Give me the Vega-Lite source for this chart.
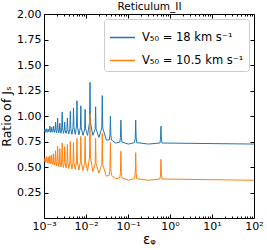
{
  "$schema": "https://vega.github.io/schema/vega-lite/v6.json",
  "width": 210,
  "height": 204,
  "autosize": {"type": "none"},
  "padding": {"left": 44, "top": 14, "right": 13, "bottom": 32},
  "config": {
    "font": "DejaVu Sans",
    "view": {"stroke": "black", "strokeWidth": 1},
    "axis": {"grid": false, "domain": false, "tickColor": "black", "labelColor": "black", "labelFontSize": 11, "titleFontSize": 12, "titleFontWeight": "normal", "titleColor": "black", "labelFont": "DejaVu Sans", "titleFont": "DejaVu Sans"}
  },
  "data": {"values": [
    {"x":0.001,"b":0.84,"o":0.55},
    {"x":0.001033,"b":0.848,"o":0.558},
    {"x":0.001059,"b":0.87,"o":0.59},
    {"x":0.001085,"b":0.848,"o":0.558},
    {"x":0.001105,"b":0.84,"o":0.545},
    {"x":0.001124,"b":0.849,"o":0.557},
    {"x":0.001153,"b":0.875,"o":0.60},
    {"x":0.001182,"b":0.849,"o":0.557},
    {"x":0.001206,"b":0.84,"o":0.54},
    {"x":0.001229,"b":0.849,"o":0.553},
    {"x":0.00126,"b":0.87,"o":0.60},
    {"x":0.001292,"b":0.849,"o":0.553},
    {"x":0.00132,"b":0.845,"o":0.535},
    {"x":0.001348,"b":0.857,"o":0.552},
    {"x":0.001383,"b":0.90,"o":0.61},
    {"x":0.001418,"b":0.857,"o":0.552},
    {"x":0.001452,"b":0.84,"o":0.53},
    {"x":0.001487,"b":0.853,"o":0.55},
    {"x":0.001525,"b":0.89,"o":0.62},
    {"x":0.001563,"b":0.853,"o":0.55},
    {"x":0.001605,"b":0.84,"o":0.525},
    {"x":0.001648,"b":0.855,"o":0.549},
    {"x":0.00169,"b":0.90,"o":0.63},
    {"x":0.001732,"b":0.855,"o":0.549},
    {"x":0.001784,"b":0.84,"o":0.52},
    {"x":0.001836,"b":0.863,"o":0.551},
    {"x":0.001883,"b":0.94,"o":0.66},
    {"x":0.00193,"b":0.863,"o":0.551},
    {"x":0.001993,"b":0.835,"o":0.51},
    {"x":0.002058,"b":0.871,"o":0.557},
    {"x":0.002111,"b":0.98,"o":0.705},
    {"x":0.002164,"b":0.871,"o":0.557},
    {"x":0.002243,"b":0.835,"o":0.505},
    {"x":0.002323,"b":0.857,"o":0.547},
    {"x":0.002383,"b":0.93,"o":0.68},
    {"x":0.002443,"b":0.857,"o":0.547},
    {"x":0.002542,"b":0.83,"o":0.50},
    {"x":0.002643,"b":0.883,"o":0.557},
    {"x":0.002711,"b":1.04,"o":0.735},
    {"x":0.002779,"b":0.883,"o":0.557},
    {"x":0.002905,"b":0.83,"o":0.495},
    {"x":0.003034,"b":0.858,"o":0.544},
    {"x":0.003112,"b":0.94,"o":0.70},
    {"x":0.00319,"b":0.858,"o":0.544},
    {"x":0.003352,"b":0.83,"o":0.49},
    {"x":0.003519,"b":0.866,"o":0.546},
    {"x":0.003609,"b":0.98,"o":0.72},
    {"x":0.003699,"b":0.866,"o":0.546},
    {"x":0.00391,"b":0.825,"o":0.485},
    {"x":0.00413,"b":0.878,"o":0.549},
    {"x":0.004236,"b":1.045,"o":0.75},
    {"x":0.004342,"b":0.878,"o":0.549},
    {"x":0.004621,"b":0.82,"o":0.48},
    {"x":0.004915,"b":0.885,"o":0.543},
    {"x":0.005041,"b":1.08,"o":0.74},
    {"x":0.005167,"b":0.885,"o":0.543},
    {"x":0.005545,"b":0.82,"o":0.475},
    {"x":0.005948,"b":0.901,"o":0.549},
    {"x":0.0061,"b":1.15,"o":0.78},
    {"x":0.006253,"b":0.901,"o":0.549},
    {"x":0.00678,"b":0.815,"o":0.47},
    {"x":0.007343,"b":0.884,"o":0.551},
    {"x":0.007531,"b":1.10,"o":0.80},
    {"x":0.007719,"b":0.884,"o":0.551},
    {"x":0.00847,"b":0.81,"o":0.465},
    {"x":0.009293,"b":0.874,"o":0.547},
    {"x":0.009531,"b":1.065,"o":0.80},
    {"x":0.009769,"b":0.874,"o":0.547},
    {"x":0.01089,"b":0.81,"o":0.46},
    {"x":0.012138,"b":0.94,"o":0.598},
    {"x":0.012449,"b":1.33,"o":1.02},
    {"x":0.01276,"b":0.94,"o":0.598},
    {"x":0.01452,"b":0.81,"o":0.455},
    {"x":0.01652,"b":0.873,"o":0.531},
    {"x":0.016944,"b":1.09,"o":0.78},
    {"x":0.017368,"b":0.873,"o":0.531},
    {"x":0.02033,"b":0.79,"o":0.44},
    {"x":0.02379,"b":0.883,"o":0.526},
    {"x":0.0244,"b":1.20,"o":0.83},
    {"x":0.02501,"b":0.883,"o":0.526},
    {"x":0.0305,"b":0.765,"o":0.41},
    {"x":0.0358,"b":0.765,"o":0.418},
    {"x":0.03717,"b":0.813,"o":0.483},
    {"x":0.038125,"b":1.00,"o":0.74},
    {"x":0.03908,"b":0.813,"o":0.483},
    {"x":0.0404,"b":0.765,"o":0.418},
    {"x":0.0508,"b":0.735,"o":0.385},
    {"x":0.0637,"b":0.744,"o":0.394},
    {"x":0.06609,"b":0.788,"o":0.447},
    {"x":0.06778,"b":0.96,"o":0.655},
    {"x":0.06947,"b":0.788,"o":0.447},
    {"x":0.0718,"b":0.744,"o":0.394},
    {"x":0.1017,"b":0.725,"o":0.37},
    {"x":0.1434,"b":0.739,"o":0.386},
    {"x":0.1487,"b":0.784,"o":0.438},
    {"x":0.1525,"b":0.96,"o":0.64},
    {"x":0.1563,"b":0.784,"o":0.438},
    {"x":0.1617,"b":0.739,"o":0.386},
    {"x":0.305,"b":0.725,"o":0.37},
    {"x":0.5734,"b":0.735,"o":0.382},
    {"x":0.5948,"b":0.769,"o":0.421},
    {"x":0.61,"b":0.90,"o":0.575},
    {"x":0.6253,"b":0.769,"o":0.421},
    {"x":0.6466,"b":0.735,"o":0.382},
    {"x":100,"b":0.725,"o":0.37}
  ]},
  "transform": [{"fold": ["b", "o"], "as": ["series", "ratio"]}],
  "layer": [
    {
      "mark": {"type": "line", "strokeWidth": 1},
      "encoding": {
        "x": {"field": "x", "type": "quantitative",
          "scale": {"type": "log", "domain": [0.001, 100]},
          "axis": {"orient": "bottom", "title": "εᵩ", "titleFontSize": 13.5, "titlePadding": -1,
            "values": [0.001,0.002,0.003,0.004,0.005,0.006,0.007,0.008,0.009,0.01,0.02,0.03,0.04,0.05,0.06,0.07,0.08,0.09,0.1,0.2,0.3,0.4,0.5,0.6,0.7,0.8,0.9,1,2,3,4,5,6,7,8,9,10,20,30,40,50,60,70,80,90,100],
            "tickSize": {"condition": {"test": "abs(log(datum.value)/LN10 - round(log(datum.value)/LN10)) < 0.01", "value": -4}, "value": -2},
            "labelPadding": 6,
            "labelOverlap": false, "labelFlush": false,
            "labelExpr": "abs(log(datum.value)/LN10 - round(log(datum.value)/LN10)) > 0.01 ? '' : '10' + ['⁻³','⁻²','⁻¹','⁰','¹','²'][round(log(datum.value)/LN10) + 3]"}},
        "y": {"field": "ratio", "type": "quantitative",
          "scale": {"domain": [0.1, 2.0]},
          "axis": {"orient": "left", "title": "Ratio of Jₛ", "titleFontSize": 12.5, "titlePadding": 3,
            "values": [0.25,0.5,0.75,1.0,1.25,1.5,1.75,2.0], "format": ".2f",
            "tickSize": -4, "labelPadding": 7, "labelOverlap": false, "labelFlush": false}},
        "color": {"field": "series", "type": "nominal",
          "scale": {"domain": ["b", "o"], "range": ["#1f77b4", "#ff7f0e"]},
          "legend": {"orient": "top-right", "offset": 5, "title": null,
            "symbolType": "stroke", "symbolSize": 625, "symbolStrokeWidth": 1.5,
            "labelFontSize": 11.5, "labelColor": "black", "labelLimit": 300, "labelOffset": 6,
            "labelExpr": "datum.value == 'b' ? 'V₅₀ = 18 km s⁻¹' : 'V₅₀ = 10.5 km s⁻¹'",
            "fillColor": "white", "strokeColor": "#cccccc", "cornerRadius": 3,
            "padding": 5, "rowPadding": 4}}
      }
    },
    {
      "mark": {"type": "point", "opacity": 0},
      "encoding": {
        "x": {"field": "x", "type": "quantitative",
          "axis": {"orient": "top", "title": "Reticulum_II", "titleFontSize": 10.5, "titlePadding": 2, "labels": false,
            "values": [0.001,0.002,0.003,0.004,0.005,0.006,0.007,0.008,0.009,0.01,0.02,0.03,0.04,0.05,0.06,0.07,0.08,0.09,0.1,0.2,0.3,0.4,0.5,0.6,0.7,0.8,0.9,1,2,3,4,5,6,7,8,9,10,20,30,40,50,60,70,80,90,100],
            "tickSize": {"condition": {"test": "abs(log(datum.value)/LN10 - round(log(datum.value)/LN10)) < 0.01", "value": -4}, "value": -2}}},
        "y": {"field": "ratio", "type": "quantitative",
          "axis": {"orient": "right", "title": null, "labels": false,
            "values": [0.25,0.5,0.75,1.0,1.25,1.5,1.75,2.0], "tickSize": -4}}
      }
    }
  ],
  "resolve": {"axis": {"x": "independent", "y": "independent"}}
}
